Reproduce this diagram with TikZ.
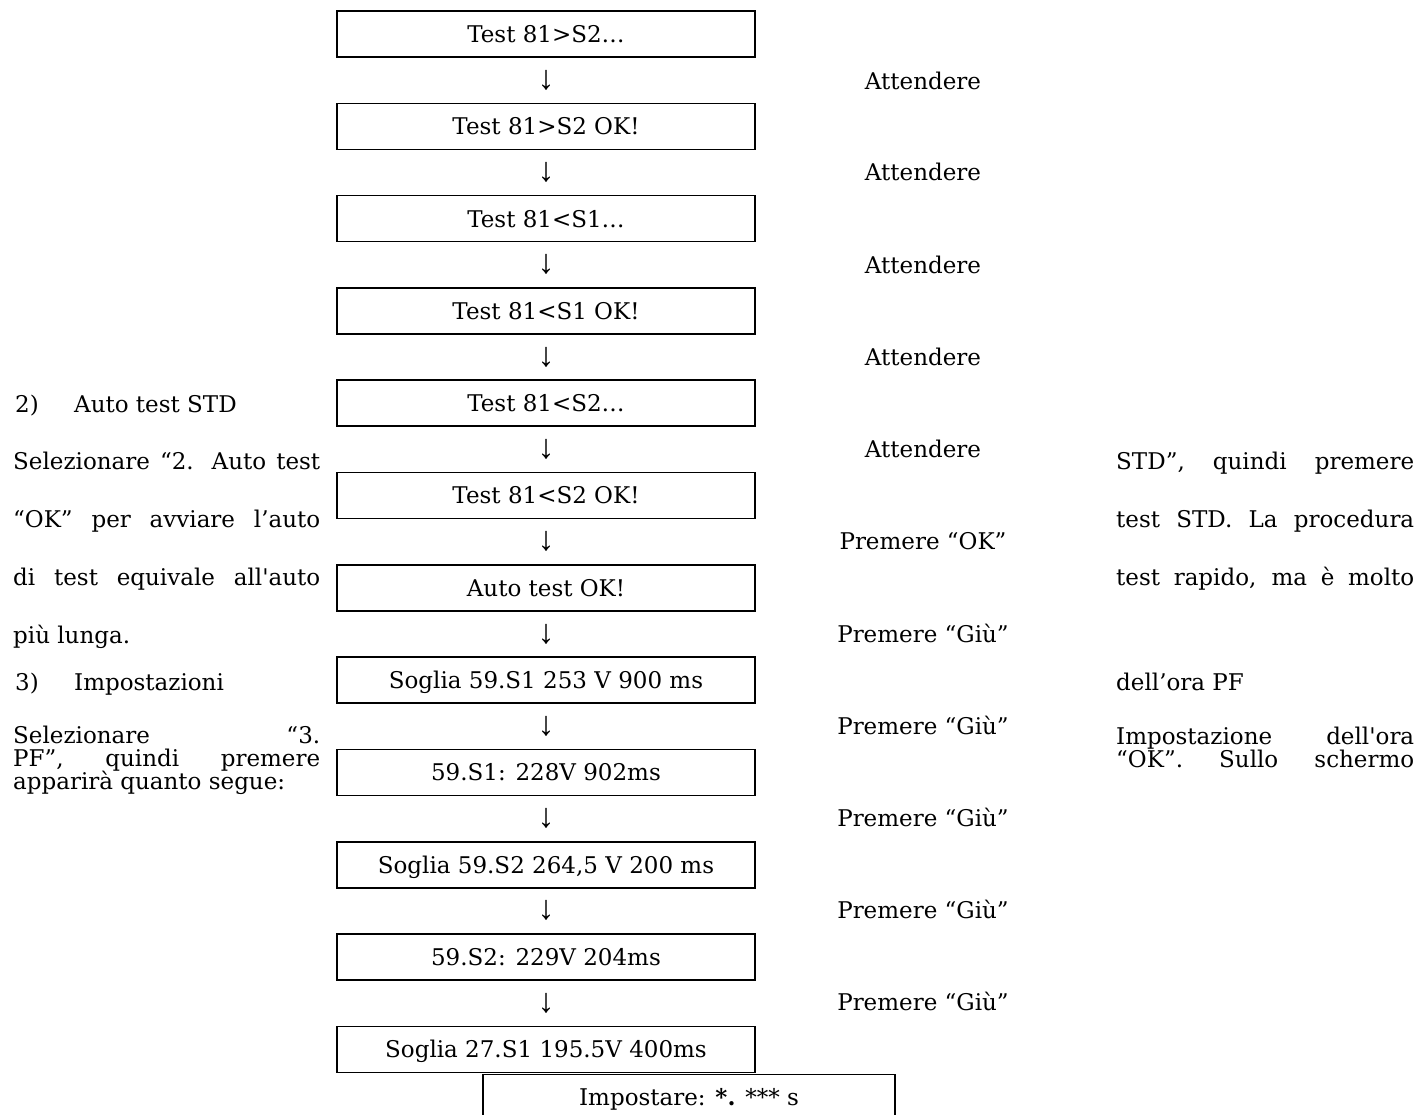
\documentclass[tikz,border=0pt]{standalone}
\usepackage{fontspec}
\setmainfont{DejaVu Serif}[Ligatures=TeXOff]
\newfontfamily\arrowfont{Liberation Serif}
\begin{document}
\begin{tikzpicture}[x=1pt,y=-1pt,
  fs/.style={font=\fontsize{23}{23}\selectfont},
  box/.style={draw, line width=1.6pt, minimum width=418pt, minimum height=46pt,
    inner sep=0pt, text height=16.8pt, text depth=0pt, fs},
  lbl/.style={fs, inner sep=0pt, text height=16.8pt, text depth=0pt},
  para/.style={lbl, anchor=west},
  arr/.style={font=\arrowfont\fontsize{34}{34}\selectfont, inner sep=0pt}]
\useasboundingbox (0,0) rectangle (1423,1114);
\clip (0,0) rectangle (1423,1114);
% boxes
\node[box] (b0)  at (546,34)     {Test 81>S2…};
\node[box] (b1)  at (546,126.3)  {Test 81>S2 OK!};
\node[box] (b2)  at (546,218.6)  {Test 81<S1…};
\node[box] (b3)  at (546,310.9)  {Test 81<S1 OK!};
\node[box] (b4)  at (546,403.2)  {Test 81<S2…};
\node[box] (b5)  at (546,495.5)  {Test 81<S2 OK!};
\node[box] (b6)  at (546,587.8)  {Auto test OK!};
\node[box] (b7)  at (546,680.1)  {Soglia 59.S1 253 V 900 ms};
\node[box] (b8)  at (546,772.4)  {59.S1: 228V 902ms};
\node[box] (b9)  at (546,864.7)  {Soglia 59.S2 264,5 V 200 ms};
\node[box] (b10) at (546,957)    {59.S2: 229V 204ms};
\node[box] (b11) at (546,1049.3) {Soglia 27.S1 195.5V 400ms};
\node[box, minimum width=412pt] (b12) at (689,1097.5) {Impostare: \textbf{*.} *** s};
% arrows
\node[arr] (a0)  at (546,80.2)   {↓};
\node[arr] (a1)  at (546,172.5)  {↓};
\node[arr] (a2)  at (546,264.8)  {↓};
\node[arr] (a3)  at (546,357.1)  {↓};
\node[arr] (a4)  at (546,449.4)  {↓};
\node[arr] (a5)  at (546,541.7)  {↓};
\node[arr] (a6)  at (546,634)    {↓};
\node[arr] (a7)  at (546,726.3)  {↓};
\node[arr] (a8)  at (546,818.6)  {↓};
\node[arr] (a9)  at (546,910.9)  {↓};
\node[arr] (a10) at (546,1003.2) {↓};
% step labels
\node[lbl] (l0)  at (923,81)   {Attendere};
\node[lbl] (l1)  at (923,172)  {Attendere};
\node[lbl] (l2)  at (923,265)  {Attendere};
\node[lbl] (l3)  at (923,357)  {Attendere};
\node[lbl] (l4)  at (923,449)  {Attendere};
\node[lbl] (l5)  at (923,541)  {Premere “OK”};
\node[lbl] (l6)  at (923,634)  {Premere “Giù”};
\node[lbl] (l7)  at (923,726)  {Premere “Giù”};
\node[lbl] (l8)  at (923,818)  {Premere “Giù”};
\node[lbl] (l9)  at (923,910)  {Premere “Giù”};
\node[lbl] (l10) at (923,1002) {Premere “Giù”};
% left text
\node[para] (p1) at (15,404) {\makebox[59pt][l]{2)}Auto test STD};
\node[para] (p2) at (13,461) {\makebox[307pt][s]{Selezionare “2. Auto test}};
\node[para] (p3) at (13,519) {\makebox[307pt][s]{“OK” per avviare l’auto}};
\node[para] (p4) at (13,577) {\makebox[307pt][s]{di test equivale all'auto}};
\node[para] (p5) at (13,635) {più lunga.};
\node[para] (p6) at (15,682) {\makebox[59pt][l]{3)}Impostazioni};
\node[para] (p7) at (13,735) {\makebox[307pt][s]{Selezionare “3.}};
\node[para] (p8) at (13,758) {\makebox[307pt][s]{PF”, quindi premere}};
\node[para] (p9) at (13,781) {apparirà quanto segue:};
% right text
\node[para] (r1) at (1116,461) {\makebox[298pt][s]{STD”, quindi premere}};
\node[para] (r2) at (1116,519) {\makebox[298pt][s]{test STD. La procedura}};
\node[para] (r3) at (1116,577) {\makebox[298pt][s]{test rapido, ma è molto}};
\node[para] (r4) at (1116,682) {dell’ora PF};
\node[para] (r5) at (1116,736) {\makebox[298pt][s]{Impostazione dell'ora}};
\node[para] (r6) at (1116,759) {\makebox[298pt][s]{“OK”. Sullo schermo}};
\end{tikzpicture}
\end{document}
